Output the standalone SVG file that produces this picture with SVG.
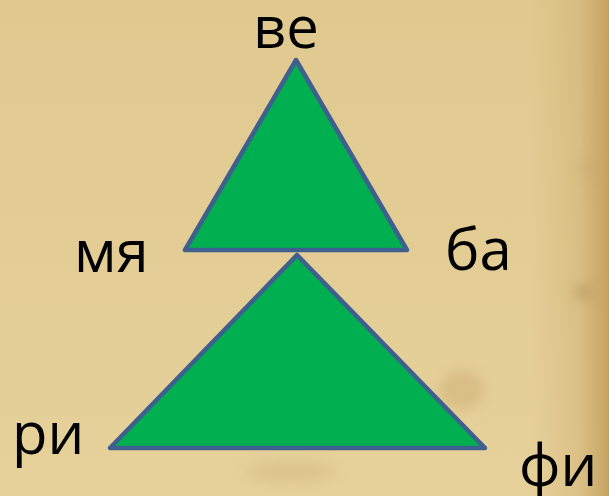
<svg xmlns="http://www.w3.org/2000/svg" width="609" height="496" viewBox="0 0 609 496">
<style>
.tri{fill:#00b050;stroke:#3f5f8e;stroke-width:4.5;stroke-linejoin:round}
.lbl{font-family:"Open Sans","Liberation Sans",sans-serif;font-size:58px;fill:#000}
</style>
<defs>
<linearGradient id="bgv" x1="0" y1="0" x2="0" y2="1">
<stop offset="0" stop-color="#e0c98f"/>
<stop offset="1" stop-color="#e6d19b"/>
</linearGradient>
<linearGradient id="edge" x1="0" y1="0" x2="1" y2="0">
<stop offset="0" stop-color="#c9a565" stop-opacity="0"/>
<stop offset="0.6" stop-color="#c9a565" stop-opacity="0.35"/>
<stop offset="1" stop-color="#c09a58" stop-opacity="0.85"/>
</linearGradient>
<filter id="soft" x="-1" y="-1" width="3" height="3">
<feGaussianBlur stdDeviation="6"/>
</filter>
</defs>
<g id="background">
<rect width="609" height="496" fill="url(#bgv)"/>
<rect x="530" y="0" width="79" height="496" fill="url(#edge)"/>
<g filter="url(#soft)">
<ellipse cx="584" cy="292" rx="11" ry="8" fill="#b8955a" opacity="0.55"/>
<ellipse cx="588" cy="168" rx="9" ry="9" fill="#c4a36a" opacity="0.35"/>
<ellipse cx="462" cy="390" rx="22" ry="20" fill="#c9a96f" opacity="0.45"/>
<ellipse cx="290" cy="472" rx="45" ry="10" fill="#cdb07a" opacity="0.4"/>
</g>
</g>
<g id="connectors"></g>
<g id="top-triangle">
<polygon class="tri" points="296,60 185,250 407,250"/>
</g>
<g id="bottom-triangle">
<polygon class="tri" points="297,255 110,448 485,448"/>
</g>
<g id="labels">
<text id="ve" class="lbl" x="253" y="48">ве</text>
<text id="mya" class="lbl" x="74" y="272">мя</text>
<text id="ba" class="lbl" x="445" y="270">ба</text>
<text id="ri" class="lbl" x="12" y="454">ри</text>
<text id="fi" class="lbl" x="519" y="486">фи</text>
</g>
</svg>
